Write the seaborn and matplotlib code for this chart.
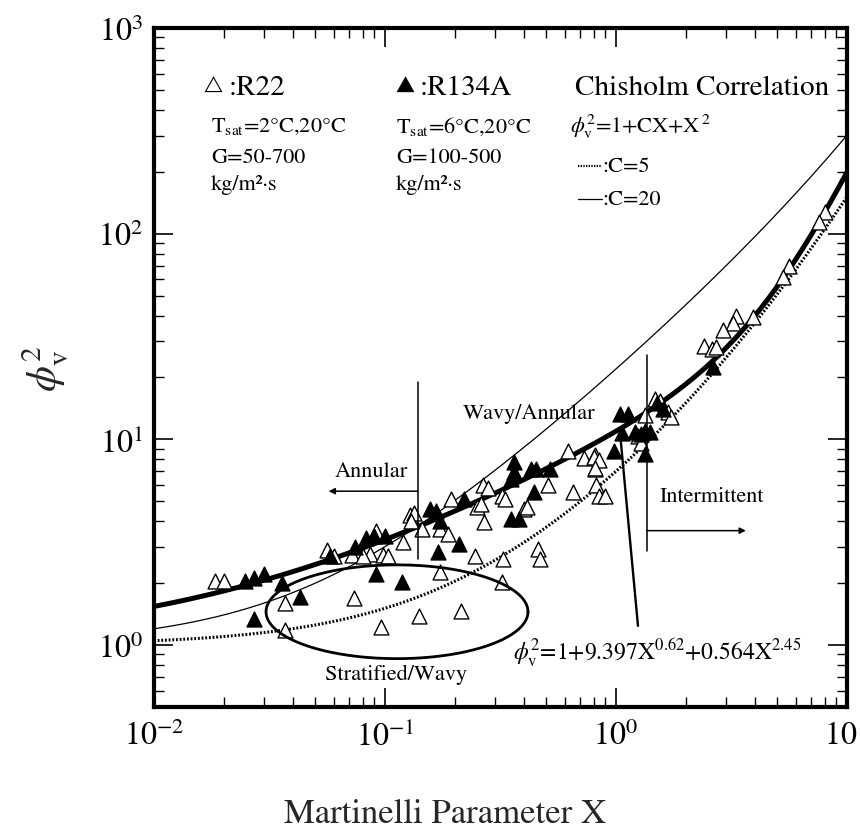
import numpy as np
import pandas as pd
import matplotlib
matplotlib.use("Agg")
import matplotlib.pyplot as plt
import matplotlib.transforms as mtransforms
import seaborn as sns
from matplotlib.ticker import LogLocator, NullFormatter, FixedLocator, FixedFormatter

sns.set_theme(style="ticks")
plt.rcParams["font.family"] = ["STIXGeneral", "DejaVu Serif"]
plt.rcParams["mathtext.fontset"] = "stix"

# ---------------- data ----------------
r22_x = [0.0184, 0.020, 0.037, 0.037, 0.056, 0.060, 0.0735, 0.0964, 0.091, 0.086, 0.098,
         0.072, 0.080, 0.103, 0.141, 0.213, 0.173, 0.32,
         0.12, 0.128, 0.133, 0.13, 0.144, 0.173, 0.188, 0.194, 0.245, 0.25, 0.26, 0.266,
         0.28, 0.268, 0.32, 0.33, 0.324, 0.40, 0.41, 0.51, 0.46, 0.47, 0.62, 0.65, 0.73,
         0.81, 0.81, 0.82, 0.84, 0.90,
         8.0, 7.6, 5.6, 5.3, 3.9, 3.3, 3.2, 2.9, 2.4, 2.6, 2.7, 1.47, 1.55, 1.68, 1.73,
         0.80, 0.84, 0.81, 1.25, 1.28, 1.34]
r22_y = [2.04, 2.04, 1.60, 1.18, 2.91, 2.70, 1.69, 1.22, 3.57, 2.78, 2.74,
         2.74, 2.70, 2.70, 1.39, 1.47, 2.27, 2.03,
         3.17, 4.27, 4.40, 3.99, 3.68, 3.68, 3.47, 5.14, 2.71, 4.69, 4.83, 5.97,
         5.80, 3.96, 5.30, 5.14, 2.63, 4.60, 4.70, 5.97, 2.94, 2.63, 8.83, 5.55, 8.10,
         8.40, 7.20, 6.00, 5.30, 5.30,
         127, 114, 70, 61.6, 39.3, 40, 37, 34, 28.6, 27.5, 28, 15.7, 15.4, 13.6, 12.9,
         8.2, 7.9, 7.3, 10.4, 9.6, 13.1]

r134a_x = [0.0248, 0.027, 0.030, 0.0358, 0.043, 0.0272, 0.058, 0.091, 0.118, 0.074,
           0.083, 0.090, 0.100, 0.156, 0.167, 0.173, 0.17, 0.21, 0.22, 0.36, 0.36,
           0.35, 0.43, 0.45, 0.35, 0.38, 0.44, 0.52, 2.64, 1.04, 1.13, 0.98, 1.06,
           1.21, 1.28, 1.34, 1.40, 1.34, 1.50, 1.59]
r134a_y = [2.04, 2.13, 2.22, 2.00, 1.71, 1.34, 2.71, 2.22, 2.03, 3.00,
           3.30, 3.40, 3.40, 4.60, 4.50, 4.00, 2.85, 3.10, 5.14, 7.80, 6.96,
           6.40, 7.20, 7.20, 4.10, 4.10, 5.55, 7.20, 22.4, 13.3, 13.3, 8.8, 10.8,
           10.9, 10.6, 11.0, 10.9, 8.5, 15.0, 14.0]

# correlation coefficients printed on the chart
fit_a, fit_p, fit_b, fit_q = 9.397, 0.62, 0.564, 2.45
chisholm_c = [5, 20]

x_ticks = [0.01, 0.1, 1, 10]
x_tick_labels = [r"$10^{-2}$", r"$10^{-1}$", r"$10^{0}$", r"$10$"]
y_ticks = [1, 10, 100, 1000]
y_tick_labels = [r"$10^{0}$", r"$10^{1}$", r"$10^{2}$", r"$10^{3}$"]

# ---------------- figure ----------------
fig = plt.figure(figsize=(8.6, 8.37), dpi=100)
ax = fig.add_axes([154 / 860, 1 - 708 / 837, 693 / 860, 679 / 837])
ax.set_xscale("log")
ax.set_yscale("log")

xs = np.logspace(-2, 1, 400)
fit_df = pd.DataFrame({"X": xs, "phi": 1 + fit_a * xs ** fit_p + fit_b * xs ** fit_q})
c5_df = pd.DataFrame({"X": xs, "phi": 1 + chisholm_c[0] * xs + xs ** 2})
c20_df = pd.DataFrame({"X": xs, "phi": 1 + chisholm_c[1] * xs + xs ** 2})

sns.lineplot(data=c20_df, x="X", y="phi", ax=ax, color="black", lw=0.9, zorder=3)
sns.lineplot(data=c5_df, x="X", y="phi", ax=ax, color="black", lw=2.2,
             linestyle=(0, (0.6, 0.6)), zorder=3)
sns.lineplot(data=fit_df, x="X", y="phi", ax=ax, color="black", lw=3.6, zorder=4)

r22_df = pd.DataFrame({"X": r22_x, "phi": r22_y})
r134_df = pd.DataFrame({"X": r134a_x, "phi": r134a_y})
sns.scatterplot(data=r22_df, x="X", y="phi", ax=ax, marker="^", s=115,
                color="white", edgecolor="black", linewidth=1.0, zorder=5)
sns.scatterplot(data=r134_df, x="X", y="phi", ax=ax, marker="^", s=115,
                color="black", edgecolor="black", linewidth=1.0, zorder=5)

# Stratified/Wavy ellipse (in log space)
t = np.linspace(0, 2 * np.pi, 300)
ex = 10 ** (-0.948 + 0.567 * np.cos(t))
ey = 10 ** (0.162 + 0.228 * np.sin(t))
ax.plot(ex, ey, color="black", lw=2.0, zorder=6)

# regime boundaries
ax.plot([0.139, 0.139], [2.63, 19.0], color="black", lw=1.1, zorder=6)
ax.plot([1.36, 1.36], [2.88, 25.8], color="black", lw=1.1, zorder=6)
ax.annotate("", xy=(0.057, 5.6), xytext=(0.139, 5.6),
            arrowprops=dict(arrowstyle="-|>", color="black", lw=1.1,
                            mutation_scale=9, shrinkA=0, shrinkB=0))
ax.annotate("", xy=(3.65, 3.6), xytext=(1.36, 3.6),
            arrowprops=dict(arrowstyle="-|>", color="black", lw=1.1,
                            mutation_scale=9, shrinkA=0, shrinkB=0))
# pointer to the fitted curve
ax.plot([1.04, 1.245], [10.9, 1.24], color="black", lw=1.7, zorder=6)

def px(xp, yp):
    return ((xp - 154) / 693, (708 - yp) / 679)

def put(xp, yp, s, size, ha="left"):
    ax.text(*px(xp, yp), s, transform=ax.transAxes, fontsize=size,
            ha=ha, va="center", color="black")

put(371, 472, "Annular", 16, "center")
put(529, 414, "Wavy/Annular", 16, "center")
put(712, 497, "Intermittent", 16, "center")
put(396, 675, "Stratified/Wavy", 16, "center")
put(513, 652, r"$\phi_{\rm v}^{2}$=1+9.397X$^{0.62}$+0.564X$^{2.45}$", 17)

# legend block
put(203, 86, "△", 12)
put(229, 88, ":R22", 21)
put(395, 86, "▲", 12)
put(420, 88, ":R134A", 21)
put(575, 88, "Chisholm Correlation", 21)
put(211, 127, r"T$_{\rm sat}$=2°C,20°C", 16)
put(396, 127, r"T$_{\rm sat}$=6°C,20°C", 16)
put(570, 127, r"$\phi_{\rm v}^{2}$=1+CX+X$^{\,2}$", 16)
put(211, 158, "G=50-700", 16)
put(396, 158, "G=100-500", 16)
put(211, 185, "kg/m²·s", 16)
put(396, 185, "kg/m²·s", 16)
x0, y0 = px(578, 167)
x1, _ = px(602, 167)
ax.plot([x0, x1], [y0, y0], transform=ax.transAxes, color="black", lw=1.6,
        linestyle=(0, (0.6, 0.6)))
put(602, 167, ":C=5", 16)
x0, y0 = px(578, 200)
ax.plot([x0, x1], [y0, y0], transform=ax.transAxes, color="black", lw=0.9)
put(602, 200, ":C=20", 16)

# axes styling
ax.set_xlim(0.01, 10)
ax.set_ylim(0.5, 1000)
ax.xaxis.set_major_locator(FixedLocator(x_ticks))
ax.xaxis.set_major_formatter(FixedFormatter(x_tick_labels))
ax.yaxis.set_major_locator(FixedLocator(y_ticks))
ax.yaxis.set_major_formatter(FixedFormatter(y_tick_labels))
ax.xaxis.set_minor_locator(LogLocator(base=10, subs=np.arange(2, 10), numticks=20))
ax.yaxis.set_minor_locator(LogLocator(base=10, subs=np.arange(2, 10), numticks=20))
ax.xaxis.set_minor_formatter(NullFormatter())
ax.yaxis.set_minor_formatter(NullFormatter())
ax.tick_params(which="both", direction="in", top=True, right=True, colors="black")
ax.tick_params(which="major", length=14, width=1.2, labelsize=23)
ax.tick_params(which="minor", length=7, width=1.0)
ax.tick_params(axis="x", which="major", pad=10)
ax.tick_params(axis="y", which="major", pad=8)
for sp in ax.spines.values():
    sp.set_linewidth(3.0)
    sp.set_color("black")

ax.set_xlabel("Martinelli Parameter X", fontsize=25)
ax.xaxis.set_label_coords((445 - 154) / 693, (708 - 815) / 679)
ax.xaxis.label.set_va("center")
ax.set_ylabel(r"$\phi_{\rm v}^{2}$", fontsize=30)
ax.yaxis.set_label_coords((45 - 154) / 693, 0.5)
ax.yaxis.label.set_va("center")

# the last x tick label sits at the figure edge; nudge it inward slightly
fig.canvas.draw()
last = ax.get_xticklabels()[-1]
last.set_transform(last.get_transform() +
                   mtransforms.ScaledTranslation(-6 / 100, 0, fig.dpi_scale_trans))

fig.savefig("out.png", dpi=100, facecolor="white")
